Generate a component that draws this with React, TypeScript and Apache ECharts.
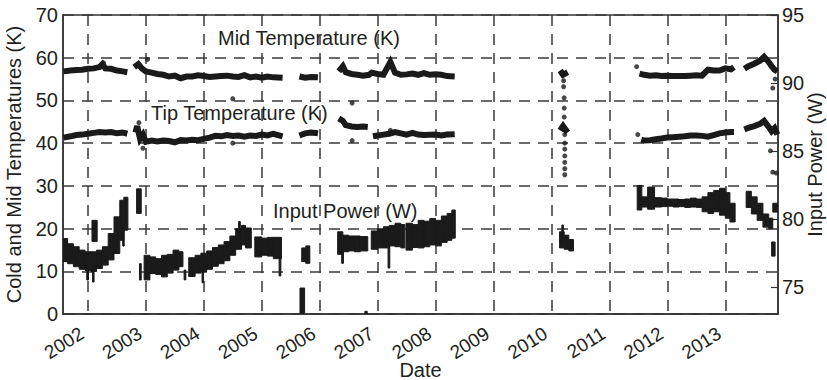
import React, { useEffect, useRef } from "react";
import * as echarts from "echarts";

// Year ticks (decimal years) and tick values
const yearTicks = [2002, 2003, 2004, 2005, 2006, 2007, 2008, 2009, 2010, 2011, 2012, 2013];
const powerTicks = [75, 80, 85, 90, 95];

// Mid temperature (K) [decimal year, K]; null = gap
const midTemp: [number, number | null][] = [
  [2001.58, 56.8], [2001.7, 57.0], [2001.8, 57.1], [2001.9, 57.2], [2002.0, 57.4], [2002.1, 57.5],
  [2002.2, 57.8], [2002.25, 58.5], [2002.3, 57.5], [2002.4, 57.4], [2002.5, 57.0], [2002.6, 56.8], [2002.68, 56.6],
  [2002.74, null],
  [2002.8, 57.8], [2002.87, 58.5], [2002.93, 57.5], [2003.0, 56.8], [2003.1, 56.5], [2003.2, 56.2], [2003.3, 56.0],
  [2003.4, 55.6], [2003.5, 55.8], [2003.6, 55.2], [2003.7, 55.6], [2003.8, 55.6], [2003.9, 55.9], [2004.0, 55.7],
  [2004.1, 55.5], [2004.2, 55.6], [2004.3, 55.7], [2004.4, 55.8], [2004.5, 55.6], [2004.6, 55.5], [2004.7, 55.9],
  [2004.8, 55.4], [2004.9, 55.6], [2005.0, 55.3], [2005.1, 55.6], [2005.2, 55.4], [2005.36, 55.3],
  [2005.5, null],
  [2005.65, 55.6], [2005.75, 55.3], [2005.85, 55.5], [2005.97, 55.4],
  [2006.2, null],
  [2006.33, 56.8], [2006.4, 58.0], [2006.45, 56.6], [2006.55, 56.2], [2006.65, 56.0], [2006.75, 55.8],
  [2006.85, 56.0], [2006.9, 56.5], [2007.0, 56.2], [2007.1, 56.0], [2007.22, 59.0], [2007.3, 56.5], [2007.4, 56.0],
  [2007.5, 56.1], [2007.6, 56.3], [2007.7, 56.0], [2007.8, 56.4], [2007.9, 56.0], [2008.0, 56.1], [2008.1, 56.0],
  [2008.2, 55.7], [2008.33, 55.6],
  [2009.0, null],
  [2010.15, 57.0], [2010.2, 56.0], [2010.28, 56.6],
  [2011.0, null],
  [2011.52, 56.3], [2011.6, 56.0], [2011.7, 55.8], [2011.8, 55.9], [2011.9, 55.7], [2012.0, 55.8],
  [2012.1, 55.7], [2012.2, 55.7], [2012.3, 55.7], [2012.4, 55.8], [2012.5, 55.9], [2012.6, 55.8], [2012.7, 57.2],
  [2012.8, 57.0], [2012.9, 57.0], [2013.0, 57.5], [2013.1, 57.3], [2013.15, 57.8],
  [2013.25, null],
  [2013.33, 57.4], [2013.4, 58.0], [2013.5, 58.6], [2013.6, 59.3], [2013.67, 60.2], [2013.75, 59.0],
  [2013.8, 58.0], [2013.85, 57.2], [2013.9, 56.8],
];

// Tip temperature (K) [decimal year, K]; null = gap
const tipTemp: [number, number | null][] = [
  [2001.58, 41.3], [2001.7, 41.6], [2001.8, 41.9], [2001.9, 42.0], [2002.0, 42.2], [2002.1, 42.4], [2002.2, 42.6],
  [2002.3, 42.5], [2002.4, 42.6], [2002.5, 42.3], [2002.6, 42.5], [2002.68, 42.2],
  [2002.74, null],
  [2002.82, 42.5], [2002.85, 44.0], [2002.9, 41.0], [2002.95, 42.0], [2003.0, 40.3], [2003.1, 40.6], [2003.2, 40.4],
  [2003.3, 40.6], [2003.4, 40.5], [2003.5, 40.2], [2003.6, 40.7], [2003.7, 40.6], [2003.8, 40.8], [2003.9, 40.7],
  [2004.0, 41.0], [2004.1, 41.3], [2004.2, 41.7], [2004.3, 41.6], [2004.4, 41.9], [2004.5, 41.7], [2004.6, 41.8],
  [2004.7, 41.5], [2004.8, 41.8], [2004.9, 41.7], [2005.0, 42.0], [2005.1, 41.8], [2005.2, 42.2], [2005.36, 41.6],
  [2005.5, null],
  [2005.65, 41.8], [2005.75, 42.3], [2005.85, 42.5], [2005.97, 42.3],
  [2006.2, null],
  [2006.33, 45.8], [2006.4, 45.2], [2006.45, 44.2], [2006.55, 43.9], [2006.65, 43.8], [2006.75, 43.9], [2006.83, 43.8],
  [2006.87, null],
  [2006.92, 41.6], [2007.0, 41.8], [2007.1, 42.0], [2007.2, 42.2], [2007.3, 42.6], [2007.4, 42.3], [2007.5, 42.0],
  [2007.6, 42.4], [2007.7, 42.0], [2007.8, 41.9], [2008.0, 42.0], [2008.1, 41.8], [2008.2, 42.0], [2008.33, 42.1],
  [2009.0, null],
  [2010.15, 43.0], [2010.2, 44.0], [2010.28, 42.5],
  [2011.0, null],
  [2011.55, 40.8], [2011.6, 40.6], [2011.7, 40.7], [2011.8, 40.9], [2011.9, 41.1], [2012.0, 41.3], [2012.1, 41.4],
  [2012.2, 41.5], [2012.3, 41.6], [2012.4, 41.8], [2012.5, 41.8], [2012.6, 41.7], [2012.7, 41.5], [2012.8, 41.9],
  [2012.9, 42.3], [2013.0, 42.5], [2013.1, 42.6], [2013.15, 42.6],
  [2013.25, null],
  [2013.33, 43.2], [2013.4, 43.6], [2013.5, 44.0], [2013.6, 44.5], [2013.67, 45.2], [2013.75, 43.8],
  [2013.8, 42.8], [2013.85, 43.5], [2013.9, 42.0],
];

// Isolated temperature readings (K)
const tempDots: [number, number][] = [
  [2002.27, 58.8], [2003.03, 59.6], [2002.88, 44.8], [2002.95, 38.8], [2004.5, 50.4], [2004.5, 40.0],
  [2006.56, 49.4], [2006.56, 40.6], [2007.22, 43.0],
  [2010.21, 54.6], [2010.21, 53.2], [2010.22, 50.6], [2010.22, 48.2], [2010.22, 46.1], [2010.23, 42.0],
  [2010.23, 40.0], [2010.23, 38.6], [2010.23, 37.0], [2010.23, 35.5], [2010.23, 34.0], [2010.23, 32.6],
  [2011.47, 57.9], [2011.49, 42.0],
  [2013.82, 52.9], [2013.86, 55.0], [2013.78, 38.2], [2013.82, 33.2], [2013.88, 33.0],
];

// Input power (W): [start year, end year, low W, high W]
const powerBlocks: [number, number, number, number][] = [
  [2001.57, 2001.65, 76.85, 78.55], [2001.65, 2001.75, 76.70, 78.17], [2001.75, 2001.85, 76.48, 77.95],
  [2001.85, 2001.95, 76.29, 77.70], [2001.95, 2002.05, 76.20, 77.58], [2002.05, 2002.15, 76.13, 77.58],
  [2002.15, 2002.25, 76.35, 77.70], [2002.25, 2002.35, 76.60, 77.95], [2002.35, 2002.45, 76.98, 78.92],
  [2002.45, 2002.55, 77.45, 80.15], [2002.55, 2002.62, 78.42, 81.37], [2002.62, 2002.69, 79.17, 81.59],
  [2001.98, 2002.01, 75.50, 76.40], [2002.08, 2002.10, 75.35, 76.30], [2002.07, 2002.16, 78.33, 79.89],
  [2002.60, 2002.62, 78.00, 79.20], [2002.84, 2002.92, 80.40, 82.21], [2002.89, 2002.92, 75.50, 76.70],
  [2002.97, 2003.07, 75.51, 77.32], [2003.07, 2003.17, 75.98, 77.20], [2003.17, 2003.27, 75.91, 77.07],
  [2003.27, 2003.37, 75.73, 77.32], [2003.37, 2003.47, 76.01, 77.39], [2003.47, 2003.57, 76.23, 77.70],
  [2003.57, 2003.64, 76.48, 77.58], [2003.66, 2003.69, 75.51, 76.23],
  [2003.74, 2003.85, 75.76, 77.14], [2003.85, 2003.95, 76.01, 77.32], [2003.95, 2004.05, 76.13, 77.48],
  [2003.97, 2003.99, 75.30, 76.20], [2004.05, 2004.15, 76.29, 77.64], [2004.15, 2004.25, 76.51, 77.89],
  [2004.25, 2004.35, 76.70, 78.08], [2004.35, 2004.45, 76.92, 78.33], [2004.45, 2004.55, 77.32, 78.74],
  [2004.55, 2004.65, 77.76, 79.27], [2004.60, 2004.63, 79.00, 79.80], [2004.65, 2004.72, 78.08, 79.52],
  [2004.72, 2004.82, 77.86, 79.33],
  [2004.88, 2005.00, 77.20, 78.67], [2005.00, 2005.10, 77.32, 78.58], [2005.10, 2005.20, 77.26, 78.64],
  [2005.20, 2005.34, 77.07, 78.64], [2005.30, 2005.33, 75.80, 77.20],
  [2005.69, 2005.76, 76.85, 77.86], [2005.76, 2005.83, 76.73, 78.01], [2005.66, 2005.74, 73.06, 74.91],
  [2006.31, 2006.40, 77.39, 79.05], [2006.38, 2006.41, 76.73, 77.60], [2006.40, 2006.50, 77.58, 78.80],
  [2006.50, 2006.60, 77.64, 78.74], [2006.60, 2006.70, 77.58, 78.74], [2006.70, 2006.83, 77.64, 78.70],
  [2006.78, 2006.82, 73.00, 73.20],
  [2006.89, 2007.00, 77.76, 79.11], [2007.00, 2007.10, 77.86, 79.27], [2007.10, 2007.20, 77.86, 79.42],
  [2007.18, 2007.21, 76.38, 78.00], [2007.20, 2007.30, 78.01, 79.52], [2007.30, 2007.40, 77.95, 79.68],
  [2007.40, 2007.47, 77.86, 79.58],
  [2007.49, 2007.60, 77.70, 79.68], [2007.60, 2007.70, 77.89, 79.58], [2007.70, 2007.80, 77.86, 79.89],
  [2007.80, 2007.90, 77.95, 79.83], [2007.90, 2008.00, 78.08, 80.02], [2008.00, 2008.10, 78.01, 79.89],
  [2008.10, 2008.20, 78.27, 80.21], [2008.20, 2008.28, 78.42, 80.40], [2008.28, 2008.34, 78.58, 80.65],
  [2010.14, 2010.22, 77.86, 79.05], [2010.18, 2010.20, 78.90, 79.55], [2010.22, 2010.30, 77.76, 78.80],
  [2010.30, 2010.38, 77.64, 78.48],
  [2011.48, 2011.56, 80.65, 82.46], [2011.56, 2011.66, 80.87, 81.62], [2011.66, 2011.78, 80.71, 82.34],
  [2011.78, 2011.90, 80.87, 81.56], [2011.90, 2012.00, 80.90, 81.53], [2012.00, 2012.10, 80.93, 81.46],
  [2012.10, 2012.20, 80.87, 81.46], [2012.20, 2012.30, 80.90, 81.43], [2012.30, 2012.40, 80.84, 81.46],
  [2012.40, 2012.50, 80.87, 81.53], [2012.50, 2012.60, 80.84, 81.46], [2012.60, 2012.70, 80.52, 81.62],
  [2012.70, 2012.80, 80.40, 81.93], [2012.80, 2012.90, 80.52, 82.09], [2012.90, 2013.00, 80.27, 82.25],
  [2013.00, 2013.08, 80.05, 81.93], [2013.08, 2013.17, 79.77, 81.15],
  [2013.36, 2013.45, 80.84, 82.03], [2013.45, 2013.55, 80.36, 81.62], [2013.55, 2013.65, 79.89, 81.15],
  [2013.65, 2013.75, 79.39, 80.36], [2013.75, 2013.82, 79.27, 80.05], [2013.82, 2013.90, 80.50, 81.15],
  [2013.80, 2013.86, 77.26, 78.30],
];

const FONT = '"Liberation Sans", Arial, Helvetica, sans-serif';
const INK = "#231f20";
const MARK = "#1a1a1a";
const GRID_LINE = { color: "#3a3a3a", width: 1.5, type: [11, 8] as number[] };

export default function App() {
  const ref = useRef<HTMLDivElement>(null);

  useEffect(() => {
    if (!ref.current) return;
    const chart = echarts.init(ref.current, undefined, { renderer: "svg" });
    const option: any = {
      animation: false,
      backgroundColor: "#ffffff",
      textStyle: { fontFamily: FONT },
      grid: {
        left: 63,
        top: 15,
        right: 49,
        bottom: 66,
        containLabel: false,
        outerBoundsMode: "none",
        show: true,
        borderColor: "#333",
        borderWidth: 1.5,
        backgroundColor: "transparent",
      },
      xAxis: {
        type: "value",
        min: 2001.57,
        max: 2013.91,
        name: "Date",
        nameLocation: "middle",
        nameGap: 46,
        nameMoveOverlap: false,
        nameTextStyle: { fontSize: 20, color: INK, fontFamily: FONT },
        axisLine: { show: true, lineStyle: { color: "#333", width: 1.5 } },
        axisTick: { show: false, customValues: yearTicks },
        axisLabel: {
          customValues: yearTicks,
          rotate: 32,
          margin: 14,
          padding: [0, 7, 0, 0],
          fontSize: 19,
          color: INK,
          fontFamily: FONT,
          formatter: (v: number) => String(v),
        },
        splitLine: { show: true, lineStyle: GRID_LINE },
      },
      yAxis: [
        {
          type: "value",
          min: 0,
          max: 70,
          interval: 10,
          position: "left",
          name: "Cold and Mid Temperatures (K)",
          nameLocation: "middle",
          nameGap: 39,
          nameRotate: 90,
          nameMoveOverlap: false,
          nameTextStyle: { fontSize: 20, color: INK, fontFamily: FONT },
          axisLine: { show: true, lineStyle: { color: "#333", width: 1.5 } },
          axisTick: { show: false },
          axisLabel: { fontSize: 20, color: INK, margin: 5, fontFamily: FONT },
          splitLine: { show: true, lineStyle: GRID_LINE },
        },
        {
          type: "value",
          min: 73,
          max: 95,
          position: "right",
          name: "Input Power (W)",
          nameLocation: "middle",
          nameGap: 27,
          nameRotate: 90,
          nameMoveOverlap: false,
          nameTextStyle: { fontSize: 20, color: INK, fontFamily: FONT },
          axisLine: { show: true, lineStyle: { color: "#333", width: 1.5 } },
          axisTick: {
            show: true,
            inside: true,
            length: 7,
            customValues: powerTicks,
            lineStyle: { color: "#333", width: 1.2 },
          },
          axisLabel: {
            customValues: powerTicks,
            fontSize: 20,
            color: INK,
            margin: 4,
            fontFamily: FONT,
            formatter: (v: number) => String(v),
          },
          splitLine: { show: false },
        },
      ],
      series: [
        {
          type: "custom",
          name: "Input Power (W)",
          yAxisIndex: 1,
          clip: true,
          encode: { x: [0, 1], y: [2, 3] },
          data: powerBlocks,
          renderItem: (params: any, api: any) => {
            const p0 = api.coord([api.value(0), api.value(3)]);
            const p1 = api.coord([api.value(1), api.value(2)]);
            return {
              type: "rect",
              shape: {
                x: p0[0],
                y: p0[1],
                width: Math.max(p1[0] - p0[0], 1.5),
                height: Math.max(p1[1] - p0[1], 1.5),
              },
              style: { fill: MARK, stroke: MARK, lineWidth: 1 },
            };
          },
        },
        {
          type: "line",
          name: "Mid Temperature (K)",
          yAxisIndex: 0,
          data: midTemp,
          showSymbol: false,
          connectNulls: false,
          lineStyle: { color: MARK, width: 6, join: "miter" },
        },
        {
          type: "line",
          name: "Tip Temperature (K)",
          yAxisIndex: 0,
          data: tipTemp,
          showSymbol: false,
          connectNulls: false,
          lineStyle: { color: MARK, width: 6, join: "miter" },
        },
        {
          type: "scatter",
          name: "Temperature readings",
          yAxisIndex: 0,
          data: tempDots,
          symbol: "circle",
          symbolSize: 5,
          itemStyle: { color: MARK },
        },
      ],
      graphic: [
        {
          type: "text",
          left: 218,
          top: 28,
          style: { text: "Mid Temperature (K)", fontSize: 20, fontFamily: FONT, fill: INK },
        },
        {
          type: "text",
          left: 151,
          top: 103,
          style: { text: "Tip Temperature (K)", fontSize: 20, fontFamily: FONT, fill: INK },
        },
        {
          type: "text",
          left: 273,
          top: 201,
          style: { text: "Input Power (W)", fontSize: 20, fontFamily: FONT, fill: INK },
        },
      ],
    };
    chart.setOption(option);
    return () => chart.dispose();
  }, []);

  return (
    <div
      ref={ref}
      style={{ position: "fixed", left: 0, top: 0, width: 827, height: 380 }}
    />
  );
}
